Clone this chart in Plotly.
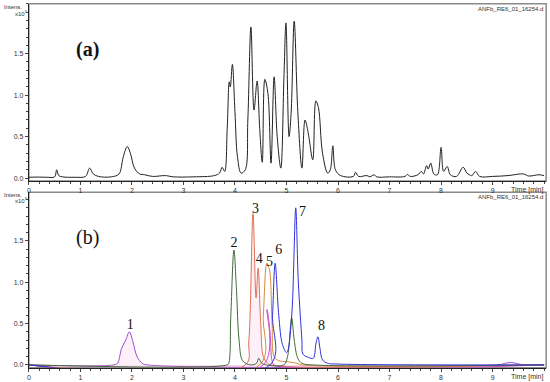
import plotly.graph_objects as go

# panel (a): total ion chromatogram, time [min] and intensity [x10^5]
tic_time = [0.0, 0.2, 0.35, 0.5, 0.54, 0.58, 0.65, 0.9, 1.1, 1.18, 1.25, 1.35, 1.6, 1.75,
            1.83, 1.91, 1.97, 2.05, 2.15, 2.25, 2.4, 2.65, 2.8, 3.2, 3.6, 3.7, 3.75, 3.8,
            3.85, 3.89, 3.91, 3.95, 4.0, 4.05, 4.12, 4.2, 4.25, 4.31, 4.37, 4.43, 4.48,
            4.53, 4.58, 4.64, 4.7, 4.76, 4.82, 4.89, 4.95, 4.99, 5.05, 5.09, 5.15, 5.22,
            5.3, 5.36, 5.42, 5.51, 5.57, 5.62, 5.7, 5.8, 5.85, 5.9, 5.95, 6.05, 6.3, 6.34,
            6.4, 6.56, 6.62, 6.7, 6.75, 7.0, 7.3, 7.35, 7.4, 7.55, 7.62, 7.66, 7.72, 7.75,
            7.8, 7.86, 7.93, 8.0, 8.05, 8.12, 8.18, 8.3, 8.43, 8.5, 8.55, 8.6, 8.67, 8.75,
            9.0, 9.3, 9.6, 9.7, 9.9, 10.0]
tic_int = [0.01, 0.012, 0.01, 0.015, 0.10, 0.03, 0.015, 0.01, 0.02, 0.12, 0.05, 0.02, 0.015, 0.05,
           0.25, 0.38, 0.30, 0.12, 0.05, 0.04, 0.02, 0.03, 0.015, 0.015, 0.03, 0.06, 0.13, 0.08,
           0.6, 1.16, 1.1, 1.37, 0.8, 0.25, 0.06, 0.1, 0.7, 1.82, 0.82, 1.17, 0.6,
           0.19, 1.19, 1.02, 0.18, 1.22, 0.5, 0.12, 1.2, 1.87, 0.5, 0.78, 1.89, 0.8,
           0.12, 0.70, 0.55, 0.22, 0.93, 0.85, 0.3, 0.06, 0.1, 0.39, 0.1, 0.03, 0.02, 0.07,
           0.02, 0.03, 0.015, 0.04, 0.015, 0.015, 0.02, 0.045, 0.02, 0.04, 0.08, 0.05, 0.15, 0.11,
           0.18, 0.05, 0.04, 0.37, 0.08, 0.14, 0.04, 0.02, 0.13, 0.06, 0.04, 0.03, 0.08, 0.02,
           0.02, 0.03, 0.05, 0.025, 0.04, 0.03]

# panel (b): extracted ion chromatograms
eic_purple_t = [0.0, 1.65, 1.72, 1.8, 1.88, 1.95, 2.02, 2.1, 2.2, 2.3, 9.1, 9.25, 9.35, 9.45, 9.6, 10.0]
eic_purple_v = [0.0, 0.0, 0.02, 0.2, 0.3, 0.40, 0.28, 0.1, 0.02, 0.0, 0.0, 0.02, 0.03, 0.02, 0.0, 0.0]

eic_green_t = [0.0, 3.85, 3.88, 3.92, 3.98, 4.03, 4.08, 4.15, 4.3, 4.42, 4.46, 4.52, 4.6,
               4.95, 5.02, 5.1, 5.15, 5.22, 5.3, 5.5, 10.0]
eic_green_v = [0.0, 0.0, 0.02, 0.6, 1.39, 0.9, 0.3, 0.05, 0.0, 0.02, 0.08, 0.02, 0.0,
               0.0, 0.1, 0.57, 0.3, 0.08, 0.02, 0.0, 0.0]

eic_red_t = [0.0, 4.2, 4.27, 4.35, 4.41, 4.45, 4.5, 4.55, 4.62, 4.7, 10.0]
eic_red_v = [0.0, 0.0, 0.3, 1.83, 0.81, 1.17, 0.5, 0.1, 0.03, 0.0, 0.0]

eic_orange_t = [0.0, 4.48, 4.55, 4.62, 4.67, 4.72, 4.76, 4.85, 5.0, 5.2, 5.3, 10.0]
eic_orange_v = [0.0, 0.0, 0.6, 1.23, 1.15, 0.5, 0.1, 0.05, 0.04, 0.02, 0.0, 0.0]

eic_magenta_t = [0.0, 4.55, 4.62, 4.68, 4.72, 4.76, 10.0]
eic_magenta_v = [0.0, 0.0, 0.67, 0.4, 0.05, 0.0, 0.0]

eic_blue_t = [0.0, 4.68, 4.73, 4.78, 4.85, 4.92, 5.0, 5.03, 5.08, 5.12, 5.14, 5.18, 5.23,
              5.3, 5.32, 5.43, 5.52, 5.57, 5.61, 5.65, 5.7, 5.8, 6.0, 10.0]
eic_blue_v = [0.0, 0.0, 0.6, 1.23, 0.6, 0.25, 0.15, 0.18, 0.42, 0.8, 1.2, 1.90, 1.0,
              0.3, 0.13, 0.09, 0.08, 0.25, 0.34, 0.2, 0.06, 0.02, 0.01, 0.0]

peak_labels = ["1", "2", "3", "4", "5", "6", "7", "8"]
peak_label_t = [1.97, 3.98, 4.40, 4.47, 4.67, 4.85, 5.31, 5.68]
peak_label_v = [0.48, 1.47, 1.88, 1.27, 1.24, 1.39, 1.84, 0.46]

x_ticks = [0, 1, 2, 3, 4, 5, 6, 7, 8, 9]
y_ticks = [0.0, 0.5, 1.0, 1.5]
y_tick_text = ["0.0", "0.5", "1.0", "1.5"]

fig = go.Figure()

fig.add_trace(go.Scatter(x=tic_time, y=tic_int, mode="lines", line=dict(color="#222", width=1),
                         line_shape="spline", xaxis="x", yaxis="y"))

pink_fill = "rgba(240,140,200,0.13)"
traces_b = [
    (eic_purple_t, eic_purple_v, "#9b4fd0", True),
    (eic_red_t, eic_red_v, "#e0704f", True),
    (eic_orange_t, eic_orange_v, "#d48a3a", False),
    (eic_magenta_t, eic_magenta_v, "#c84fc8", True),
    (eic_green_t, eic_green_v, "#3f6b3a", False),
    (eic_blue_t, eic_blue_v, "#3030d8", False),
]
for t, v, col, filled in traces_b:
    fig.add_trace(go.Scatter(x=t, y=v, mode="lines", line=dict(color=col, width=1),
                             line_shape="spline", fill="tozeroy" if filled else None,
                             fillcolor=pink_fill, xaxis="x2", yaxis="y2"))

fig.add_trace(go.Scatter(x=peak_label_t, y=peak_label_v, mode="text", text=peak_labels,
                         textfont=dict(family="Liberation Serif", size=14, color="#111"),
                         textposition="middle center", xaxis="x2", yaxis="y2"))

tickfont = dict(family="Liberation Sans", size=7, color="#333")
xax = dict(range=[0, 10.04], tickvals=x_ticks, ticks="outside", ticklen=3, tickfont=tickfont,
           showgrid=False, zeroline=False, showline=True, linecolor="#222", linewidth=1,
           minor=dict(dtick=0.2, ticks="outside", ticklen=2, tickcolor="#444"))
yax = dict(range=[-0.036, 2.1], tickvals=y_ticks, ticktext=y_tick_text, ticks="outside",
           ticklen=3, tickfont=tickfont, showgrid=False, zeroline=False, showline=True,
           linecolor="#222", linewidth=1,
           minor=dict(dtick=0.1, ticks="outside", ticklen=2, tickcolor="#444"))

fig.update_layout(
    width=550, height=382, margin=dict(l=0, r=0, t=0, b=0),
    paper_bgcolor="white", plot_bgcolor="white", showlegend=False,
    xaxis=dict(xax, domain=[0.049, 0.993], anchor="y"),
    yaxis=dict(yax, domain=[0.526, 0.990], anchor="x"),
    xaxis2=dict(xax, domain=[0.049, 0.993], anchor="y2"),
    yaxis2=dict(yax, range=[-0.036, 2.09], domain=[0.037, 0.497], anchor="x2"),
)

# gray frame on top and right of each panel
for xr, yr in [("x domain", "y domain"), ("x2 domain", "y2 domain")]:
    fig.add_shape(type="rect", xref=xr, yref=yr, x0=0, x1=1, y0=0, y1=1,
                  line=dict(color="#8a8a8a", width=1.5), layer="below")

small = dict(family="Liberation Sans", size=6, color="#333")
for xr, yr, lab, bold in [("x", "y", "(a)", True), ("x2", "y2", "(b)", False)]:
    fig.add_annotation(xref=xr + " domain", yref=yr + " domain", x=0.088, y=0.82,
                       text="<b>%s</b>" % lab if bold else lab, showarrow=False,
                       font=dict(family="Liberation Serif", size=20, color="#111"))
    fig.add_annotation(xref=xr + " domain", yref=yr + " domain", x=0.998, y=1.0,
                       xanchor="right", yanchor="top", text="ANFb_RE6_01_16254.d",
                       showarrow=False, font=small)
    fig.add_annotation(xref="paper", yref=yr, x=0.0, y=2.06, xanchor="left",
                       text="Intens.", showarrow=False, font=small)
    fig.add_annotation(xref="paper", yref=yr, x=0.02, y=1.99, xanchor="left",
                       text="x10<sup>5</sup>", showarrow=False, font=small)
    fig.add_annotation(xref=xr + " domain", yref=yr + " domain", x=0.998, y=-0.015,
                       xanchor="right", yanchor="top",
                       text="Time [min]", showarrow=False, font=dict(small, size=7))

fig.write_html("out.html", config={"displayModeBar": False},
               post_script="document.body.style.margin='0';")
